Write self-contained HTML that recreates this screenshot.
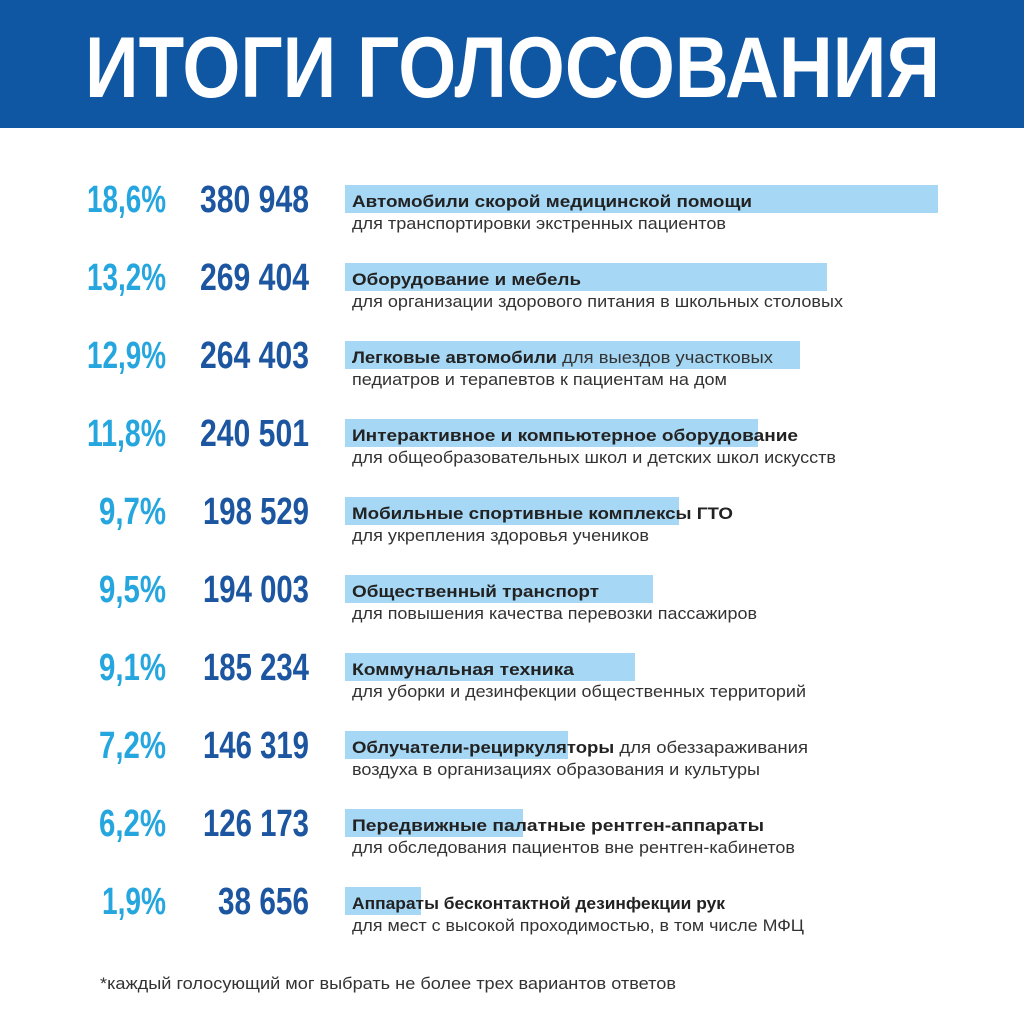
<!DOCTYPE html>
<html><head><meta charset="utf-8"><style>
html,body{margin:0;padding:0;background:#fff;}
svg{display:block;}
</style></head><body>
<svg width="1024" height="1024" xmlns="http://www.w3.org/2000/svg" font-family="Liberation Sans, DejaVu Sans, sans-serif">
<rect x="0" y="0" width="1024" height="128" fill="#0f56a3"/>
<text x="85" y="97" font-size="86" font-weight="bold" fill="#fff" textLength="855" lengthAdjust="spacingAndGlyphs">ИТОГИ ГОЛОСОВАНИЯ</text>
<g>
<g transform="translate(0,0)">
<rect x="345" y="185" width="593" height="28" fill="#a6d7f4"/>
<text x="166" y="212" font-size="38" font-weight="bold" fill="#25a6df" text-anchor="end" textLength="79" lengthAdjust="spacingAndGlyphs">18,6%</text>
<text x="309" y="212" font-size="38" fill="#1c55a0" font-weight="bold" text-anchor="end" textLength="109" lengthAdjust="spacingAndGlyphs">380 948</text>
<text x="352" y="207" font-size="17" font-weight="bold" fill="#222" textLength="400" lengthAdjust="spacingAndGlyphs">Автомобили скорой медицинской помощи</text>
<text x="352" y="229" font-size="17" fill="#333" textLength="374" lengthAdjust="spacingAndGlyphs">для транспортировки экстренных пациентов</text>
</g>
<g transform="translate(0,78)">
<rect x="345" y="185" width="482" height="28" fill="#a6d7f4"/>
<text x="166" y="212" font-size="38" font-weight="bold" fill="#25a6df" text-anchor="end" textLength="79" lengthAdjust="spacingAndGlyphs">13,2%</text>
<text x="309" y="212" font-size="38" fill="#1c55a0" font-weight="bold" text-anchor="end" textLength="109" lengthAdjust="spacingAndGlyphs">269 404</text>
<text x="352" y="207" font-size="17" font-weight="bold" fill="#222" textLength="229" lengthAdjust="spacingAndGlyphs">Оборудование и мебель</text>
<text x="352" y="229" font-size="17" fill="#333" textLength="491" lengthAdjust="spacingAndGlyphs">для организации здорового питания в школьных столовых</text>
</g>
<g transform="translate(0,156)">
<rect x="345" y="185" width="455" height="28" fill="#a6d7f4"/>
<text x="166" y="212" font-size="38" font-weight="bold" fill="#25a6df" text-anchor="end" textLength="79" lengthAdjust="spacingAndGlyphs">12,9%</text>
<text x="309" y="212" font-size="38" fill="#1c55a0" font-weight="bold" text-anchor="end" textLength="109" lengthAdjust="spacingAndGlyphs">264 403</text>
<text x="352" y="207" font-size="17" fill="#333" textLength="421" lengthAdjust="spacingAndGlyphs"><tspan font-weight="bold" fill="#222">Легковые автомобили</tspan> для выездов участковых</text>
<text x="352" y="229" font-size="17" fill="#333" textLength="375" lengthAdjust="spacingAndGlyphs">педиатров и терапевтов к пациентам на дом</text>
</g>
<g transform="translate(0,234)">
<rect x="345" y="185" width="413" height="28" fill="#a6d7f4"/>
<text x="166" y="212" font-size="38" font-weight="bold" fill="#25a6df" text-anchor="end" textLength="79" lengthAdjust="spacingAndGlyphs">11,8%</text>
<text x="309" y="212" font-size="38" fill="#1c55a0" font-weight="bold" text-anchor="end" textLength="109" lengthAdjust="spacingAndGlyphs">240 501</text>
<text x="352" y="207" font-size="17" font-weight="bold" fill="#222" textLength="446" lengthAdjust="spacingAndGlyphs">Интерактивное и компьютерное оборудование</text>
<text x="352" y="229" font-size="17" fill="#333" textLength="484" lengthAdjust="spacingAndGlyphs">для общеобразовательных школ и детских школ искусств</text>
</g>
<g transform="translate(0,312)">
<rect x="345" y="185" width="334" height="28" fill="#a6d7f4"/>
<text x="166" y="212" font-size="38" font-weight="bold" fill="#25a6df" text-anchor="end" textLength="67" lengthAdjust="spacingAndGlyphs">9,7%</text>
<text x="309" y="212" font-size="38" fill="#1c55a0" font-weight="bold" text-anchor="end" textLength="106" lengthAdjust="spacingAndGlyphs">198 529</text>
<text x="352" y="207" font-size="17" font-weight="bold" fill="#222" textLength="381" lengthAdjust="spacingAndGlyphs">Мобильные спортивные комплексы ГТО</text>
<text x="352" y="229" font-size="17" fill="#333" textLength="297" lengthAdjust="spacingAndGlyphs">для укрепления здоровья учеников</text>
</g>
<g transform="translate(0,390)">
<rect x="345" y="185" width="308" height="28" fill="#a6d7f4"/>
<text x="166" y="212" font-size="38" font-weight="bold" fill="#25a6df" text-anchor="end" textLength="67" lengthAdjust="spacingAndGlyphs">9,5%</text>
<text x="309" y="212" font-size="38" fill="#1c55a0" font-weight="bold" text-anchor="end" textLength="106" lengthAdjust="spacingAndGlyphs">194 003</text>
<text x="352" y="207" font-size="17" font-weight="bold" fill="#222" textLength="247" lengthAdjust="spacingAndGlyphs">Общественный транспорт</text>
<text x="352" y="229" font-size="17" fill="#333" textLength="405" lengthAdjust="spacingAndGlyphs">для повышения качества перевозки пассажиров</text>
</g>
<g transform="translate(0,468)">
<rect x="345" y="185" width="290" height="28" fill="#a6d7f4"/>
<text x="166" y="212" font-size="38" font-weight="bold" fill="#25a6df" text-anchor="end" textLength="67" lengthAdjust="spacingAndGlyphs">9,1%</text>
<text x="309" y="212" font-size="38" fill="#1c55a0" font-weight="bold" text-anchor="end" textLength="106" lengthAdjust="spacingAndGlyphs">185 234</text>
<text x="352" y="207" font-size="17" font-weight="bold" fill="#222" textLength="222" lengthAdjust="spacingAndGlyphs">Коммунальная техника</text>
<text x="352" y="229" font-size="17" fill="#333" textLength="454" lengthAdjust="spacingAndGlyphs">для уборки и дезинфекции общественных территорий</text>
</g>
<g transform="translate(0,546)">
<rect x="345" y="185" width="223" height="28" fill="#a6d7f4"/>
<text x="166" y="212" font-size="38" font-weight="bold" fill="#25a6df" text-anchor="end" textLength="67" lengthAdjust="spacingAndGlyphs">7,2%</text>
<text x="309" y="212" font-size="38" fill="#1c55a0" font-weight="bold" text-anchor="end" textLength="106" lengthAdjust="spacingAndGlyphs">146 319</text>
<text x="352" y="207" font-size="17" fill="#333" textLength="456" lengthAdjust="spacingAndGlyphs"><tspan font-weight="bold" fill="#222">Облучатели-рециркуляторы</tspan> для обеззараживания</text>
<text x="352" y="229" font-size="17" fill="#333" textLength="408" lengthAdjust="spacingAndGlyphs">воздуха в организациях образования и культуры</text>
</g>
<g transform="translate(0,624)">
<rect x="345" y="185" width="178" height="28" fill="#a6d7f4"/>
<text x="166" y="212" font-size="38" font-weight="bold" fill="#25a6df" text-anchor="end" textLength="67" lengthAdjust="spacingAndGlyphs">6,2%</text>
<text x="309" y="212" font-size="38" fill="#1c55a0" font-weight="bold" text-anchor="end" textLength="106" lengthAdjust="spacingAndGlyphs">126 173</text>
<text x="352" y="207" font-size="17" font-weight="bold" fill="#222" textLength="412" lengthAdjust="spacingAndGlyphs">Передвижные палатные рентген-аппараты</text>
<text x="352" y="229" font-size="17" fill="#333" textLength="443" lengthAdjust="spacingAndGlyphs">для обследования пациентов вне рентген-кабинетов</text>
</g>
<g transform="translate(0,702)">
<rect x="345" y="185" width="76" height="28" fill="#a6d7f4"/>
<text x="166" y="212" font-size="38" font-weight="bold" fill="#25a6df" text-anchor="end" textLength="64" lengthAdjust="spacingAndGlyphs">1,9%</text>
<text x="309" y="212" font-size="38" fill="#1c55a0" font-weight="bold" text-anchor="end" textLength="91" lengthAdjust="spacingAndGlyphs">38 656</text>
<text x="352" y="207" font-size="17" font-weight="bold" fill="#222" textLength="373" lengthAdjust="spacingAndGlyphs">Аппараты бесконтактной дезинфекции рук</text>
<text x="352" y="229" font-size="17" fill="#333" textLength="452" lengthAdjust="spacingAndGlyphs">для мест с высокой проходимостью, в том числе МФЦ</text>
</g>
</g>
<text x="100" y="989" font-size="16.5" fill="#333" textLength="576" lengthAdjust="spacingAndGlyphs">*каждый голосующий мог выбрать не более трех вариантов ответов</text>
</svg>
</body></html>
